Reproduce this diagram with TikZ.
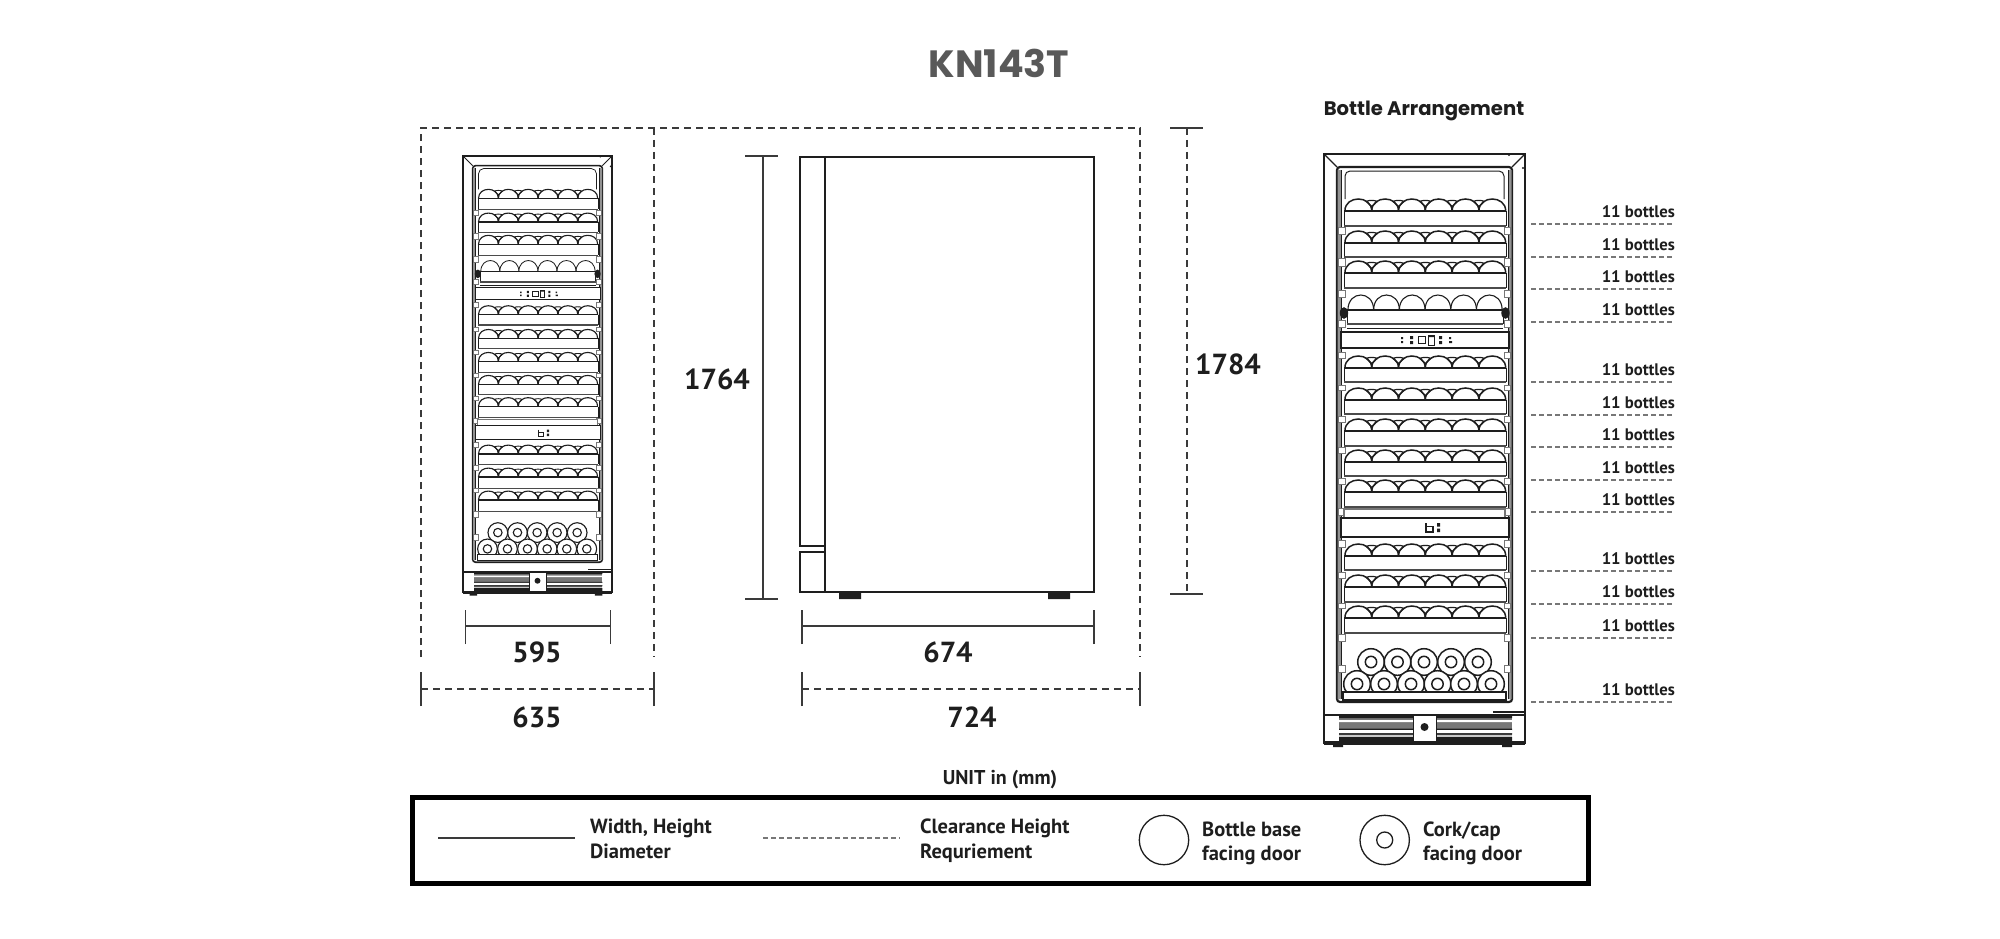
\documentclass[tikz,border=0pt]{standalone}
\usepackage{fontspec}
\setmainfont{PT Sans}
\newfontfamily\titlefont{Poppins}
\definecolor{ink}{HTML}{1E1E1E}
\definecolor{dimc}{HTML}{3A3A3A}
\definecolor{ttl}{HTML}{595959}
\definecolor{wallc}{HTML}{777777}
\tikzset{
  dimtxt/.style={font=\fontsize{29}{30}\selectfont\bfseries,text=ink,inner sep=0pt},
  lbl/.style={font=\fontsize{16.7}{18}\selectfont\bfseries,text=ink,inner sep=0pt,anchor=east},
  lgd/.style={font=\fontsize{20.5}{21}\selectfont\bfseries,text=ink,inner sep=0pt,anchor=base west},
  dimline/.style={draw=dimc,line width=1.5pt},
  clear/.style={draw=dimc,line width=1.5pt,dash pattern=on 7pt off 5pt},
  thin dash/.style={draw=wallc,line width=1.2pt,dash pattern=on 4.5pt off 3.5pt},
}
\newcommand{\bottlerow}[3]{% base, shelf bottom, line scale
  \foreach \c in {1358.3,1385.1,1411.9,1438.7,1465.5,1492.3}{
    \draw[ink,line width=#3*1.5pt] (\c-13.4,#1) .. controls (\c-13.4,#1-16) and (\c+13.4,#1-16) .. (\c+13.4,#1);}
  \foreach \c in {1371.7,1398.5,1425.3,1452.1,1478.9}{
    \draw[ink,line width=#3*1.2pt,line join=round] (\c-5.5,#1-9.5) .. controls (\c-3,#1-11) and (\c+3,#1-11) .. (\c+5.5,#1-9.5) -- (\c,#1-4.5) -- cycle (\c,#1-4.5) -- (\c,#1);}
  \fill[white] (1344,#1) rectangle (1506,#2);
  \draw[ink,line width=#3*.8pt] (1344,#1) -- (1344,#2) (1506,#1) -- (1506,#2);
  \draw[ink,line width=#3*1.8pt] (1344,#1) -- (1506,#1);
  \draw[ink!80,line width=#3*1.4pt] (1344,#2) -- (1506,#2);
}
\newcommand{\fridgeart}[1]{%
  % door
  \draw[ink,line width=#1*1.8pt] (1324,154) rectangle (1525,743);
  \draw[ink,line width=#1*1.1pt] (1324,154) -- (1337,167) (1525,154) -- (1512,167);
  \draw[ink,line width=#1*2.2pt,rounded corners=3pt] (1337,167) rectangle (1512,702);
  \fill[wallc!80] (1337.5,170) rectangle (1341,699) (1508,170) rectangle (1511.5,699);
  \draw[ink,line width=#1*.9pt] (1341,170) -- (1341,699) (1508,170) -- (1508,699);
  \draw[ink,line width=#1*1pt,rounded corners=5pt] (1345,199) -- (1345,171) -- (1504,171) -- (1504,199);
  \fill[ink] (1509,155) circle[radius=1.2] (1523,168) circle[radius=1.2];
  % shelves with bottles
  \foreach \b/\s in {211/226,243/257,273/288,368/382,400/414,431/446,462/476,492/507,556/570,587/602,618/633}{
    \bottlerow{\b}{\s}{#1}
  }
  % plain shelf with bases towards the door
  \foreach \c in {1360.8,1386.5,1412.2,1437.9,1463.6,1489.3}{
    \draw[ink,line width=#1*1.1pt] (\c-12.85,310) .. controls (\c-12.85,290) and (\c+12.85,290) .. (\c+12.85,310);}
  \fill[white] (1347,310) rectangle (1503,324);
  \draw[ink,line width=#1*.8pt] (1347,310) -- (1347,324) (1503,310) -- (1503,324);
  \draw[ink,line width=#1*1.6pt] (1347,310) -- (1503,310);
  \draw[ink!80,line width=#1*1.4pt] (1347,324) -- (1503,324);
  \fill[ink] (1344,313) ellipse[x radius=4.2,y radius=5.8] (1505.5,313) ellipse[x radius=4.2,y radius=5.8];
  % clips
  \foreach \y/\z in {227/234,258/266,290/297,320/327,352/358,385/390,416/422,447/453,478/484,508/515,540/547,572/578,603/608,634/641,665/672}{
    \draw[wallc,fill=white,line width=#1*1pt] (1338.5,\y) rectangle (1345,\z);
    \draw[wallc,fill=white,line width=#1*1pt] (1504,\y) rectangle (1510.5,\z);
  }
  % control panels
  \draw[ink,line width=#1*1.1pt] (1347,328.5) -- (1503,328.5);
  \draw[ink,fill=white,line width=#1*1.3pt] (1341,332) rectangle (1509,348);
  \fill[ink] (1401,337) rectangle (1403,339) (1401,341) rectangle (1403,343)
             (1410,336) rectangle (1413,339) (1410,341) rectangle (1413,344)
             (1429,335) rectangle (1434,337)
             (1439,336) rectangle (1442,339) (1439,341) rectangle (1442,344)
             (1449,337) rectangle (1451,339) (1449,341) rectangle (1452,343);
  \draw[ink,line width=#1*1pt] (1418,336.5) rectangle (1425,343) (1428,335) rectangle (1434,345);
  \draw[wallc,fill=white,line width=#1*1.1pt] (1344,509) rectangle (1505,518);
  \draw[ink,fill=white,line width=#1*1.3pt] (1341,518) rectangle (1509,537);
  \draw[ink,line width=#1*1.3pt] (1426,523) -- (1426,532) -- (1433,532) -- (1433,526.5) -- (1426,526.5);
  \fill[ink] (1437,523) rectangle (1440,526.5) (1437,528.5) rectangle (1440,532);
  % lying bottles
  \foreach \c in {1371,1397.5,1424,1451,1478}{
    \draw[ink,line width=#1*1.5pt] (\c,662) circle[radius=13.3] (\c,662) circle[radius=5.7];}
  \foreach \c in {1357,1384,1411,1437.5,1464,1491}{
    \draw[ink,fill=white,line width=#1*1.5pt] (\c,684) circle[radius=13.3] (\c,684) circle[radius=5.7];}
  \fill[white] (1343,692) rectangle (1506,700);
  \draw[ink,line width=#1*1.3pt] (1343,692) rectangle (1506,700);
  % base
  \draw[ink,line width=#1*2pt] (1324,715) -- (1525,715);
  \fill[ink] (1493,711) rectangle (1525,713);
  \fill[wallc] (1339,716) rectangle (1512,741);
  \fill[ink] (1339,715) rectangle (1512,718) (1339,728.5) rectangle (1512,730) (1339,733) rectangle (1512,734.5) (1339,737) rectangle (1512,741);
  \fill[white] (1339,720) rectangle (1512,722) (1339,730) rectangle (1512,733);
  \fill[wallc!40] (1339,735) rectangle (1512,737);
  \draw[ink,fill=white,line width=#1*.8pt] (1413,715) rectangle (1436,741);
  \fill[ink] (1424.5,727) circle[radius=4];
  \fill[ink] (1324,741) rectangle (1525,745);
  \fill[ink] (1333,744) rectangle (1343,747) (1502,744) rectangle (1512,747);
}
\begin{document}
\begin{tikzpicture}[x=1pt,y=-1pt]
\useasboundingbox (0,0) rectangle (2000,939);
\fill[white] (0,0) rectangle (2000,939);
% title
\node[font=\fontsize{38}{39}\selectfont\titlefont\bfseries,text=ttl,inner sep=0pt] (title) at (999,63) {KN143T};
\node[font=\fontsize{19.6}{20}\selectfont\titlefont\bfseries,text=ink,inner sep=0pt] (arr) at (1424,111) {Bottle Arrangement};
% clearance frame
\coordinate (cTL) at (421,128); \coordinate (cTM) at (654,128); \coordinate (cTR) at (1140,128);
\coordinate (cBL) at (421,657); \coordinate (cBM) at (654,657); \coordinate (cBR) at (1140,657);
\draw[clear] (cBL) -- (cTL) -- (cTR) -- (cBR) (cTM) -- (cBM);
% front view, small
\begin{scope}[shift={(-518.48,41.84)},scale=.7413]
  \fridgeart{.75}
\end{scope}
% side view
\draw[ink,line width=2pt] (825,157) rectangle (1094,592);
\draw[ink,line width=2pt] (825,157) -- (800,157) -- (800,546) -- (825,546);
\draw[ink,line width=2pt] (825,552) -- (800,552) -- (800,592) -- (825,592);
\fill[ink] (839,592) rectangle (861,599) (1048,592) rectangle (1070,599);
% width 595
\coordinate (a1) at (465.5,626); \coordinate (a2) at (610.5,626);
\draw[dimline] (a1) -- (a2) ([yshift=-18pt]a1) -- ([yshift=16pt]a1) ([yshift=-18pt]a2) -- ([yshift=16pt]a2);
\node[dimtxt] (d595) at (537,652) {595};
% width 635
\coordinate (b1) at (421,689); \coordinate (b2) at (654,689);
\draw[clear] (b1) -- (b2);
\draw[dimline] ([yshift=-17pt]b1) -- ([yshift=17pt]b1) ([yshift=-17pt]b2) -- ([yshift=17pt]b2);
\node[dimtxt] (d635) at (537,717) {635};
% depth 674
\coordinate (e1) at (802,626); \coordinate (e2) at (1094,626);
\draw[dimline] (e1) -- (e2) ([yshift=-18pt]e1) -- ([yshift=16pt]e1) ([yshift=-18pt]e2) -- ([yshift=16pt]e2);
\node[dimtxt] (d674) at (948,652) {674};
% depth 724
\coordinate (f1) at (802,689); \coordinate (f2) at (1140,689);
\draw[clear] (f1) -- (f2);
\draw[dimline] ([yshift=-17pt]f1) -- ([yshift=17pt]f1) ([yshift=-17pt]f2) -- ([yshift=17pt]f2);
\node[dimtxt] (d724) at (972,717) {724};
% height 1764
\coordinate (g1) at (763,156); \coordinate (g2) at (763,599);
\draw[dimline] (g1) -- (g2) ([xshift=-18pt]g1) -- ([xshift=15pt]g1) ([xshift=-18pt]g2) -- ([xshift=15pt]g2);
\node[dimtxt] (d1764) at (717,379) {1764};
% height 1784
\coordinate (h1) at (1187,128); \coordinate (h2) at (1187,594);
\draw[clear] (h1) -- (h2);
\draw[dimline] ([xshift=-17pt]h1) -- ([xshift=16pt]h1) ([xshift=-17pt]h2) -- ([xshift=16pt]h2);
\node[dimtxt] (d1784) at (1228,364) {1784};
% front view, large
\fridgeart{1}
% bottle labels
\foreach \y in {224,257,289,322,382,415,447,480,512,571,604,638,702}{
  \coordinate (p\y) at (1531,\y); \coordinate (q\y) at (1675,\y);
  \draw[thin dash] (p\y) -- (q\y);
  \node[lbl] (t\y) at (1675,\y-12.5) {11 bottles};
}
% legend
\node[font=\fontsize{20}{21}\selectfont\bfseries,text=ink,inner sep=0pt] (unit) at (1000,779.5) {UNIT in (mm)};
\draw[black,line width=5pt] (412,797.5) rectangle (1588,883.5);
\coordinate (l1) at (438,838); \coordinate (l2) at (575,838);
\draw[dimline] (l1) -- (l2);
\node[lgd] (w1) at (590,833) {Width, Height};
\node[lgd] (w2) at (590,858) {Diameter};
\coordinate (m1) at (763,838); \coordinate (m2) at (900,838);
\draw[thin dash] (m1) -- (m2);
\node[lgd] (c1) at (920,833) {Clearance Height};
\node[lgd] (c2) at (920,858) {Requriement};
\draw[ink,line width=1.3pt] (1164,840) circle[radius=24.7];
\node[lgd] (b3) at (1202,836) {Bottle base};
\node[lgd] (b4) at (1202,860) {facing door};
\draw[ink,line width=1.3pt] (1384.7,840) circle[radius=24.7] (1384.7,840) circle[radius=8];
\node[lgd] (k1) at (1423,836) {Cork/cap};
\node[lgd] (k2) at (1423,860) {facing door};
\end{tikzpicture}
\end{document}
